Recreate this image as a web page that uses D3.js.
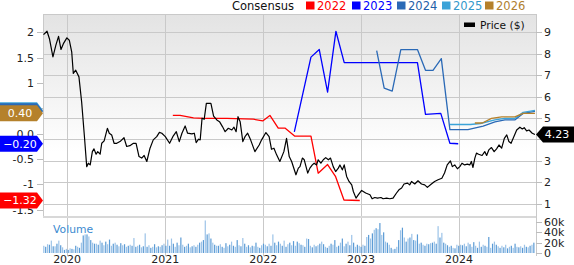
<!DOCTYPE html>
<html><head><meta charset="utf-8">
<script src="https://cdn.jsdelivr.net/npm/d3@7"></script>
<style>body{margin:0;background:#fff}svg{display:block}text{font-family:"DejaVu Sans",sans-serif}</style>
</head><body><svg id="c" width="574" height="265"></svg>
<script>
// ---------------- DATA ----------------
const priceDates = ["2019-10-05","2019-10-18","2019-10-27","2019-11-09","2019-11-20","2019-11-30","2019-12-09","2019-12-18","2019-12-31","2020-01-09","2020-01-18","2020-01-24","2020-02-02","2020-02-14","2020-02-24","2020-03-05","2020-03-14","2020-03-20","2020-03-27","2020-04-04","2020-04-10","2020-04-18","2020-04-24","2020-05-03","2020-05-09","2020-05-18","2020-05-30","2020-06-06","2020-06-15","2020-06-24","2020-07-04","2020-07-16","2020-07-31","2020-08-10","2020-08-22","2020-09-04","2020-09-14","2020-09-25","2020-10-05","2020-10-14","2020-10-24","2020-11-05","2020-11-17","2020-11-30","2020-12-10","2020-12-19","2021-01-01","2021-01-17","2021-01-29","2021-02-11","2021-02-22","2021-03-04","2021-03-16","2021-03-25","2021-04-10","2021-04-19","2021-04-26","2021-05-05","2021-05-11","2021-05-18","2021-05-26","2021-06-03","2021-06-20","2021-06-30","2021-07-12","2021-07-22","2021-08-02","2021-08-12","2021-08-24","2021-09-06","2021-09-14","2021-09-22","2021-09-29","2021-10-07","2021-10-17","2021-10-25","2021-11-04","2021-11-15","2021-12-01","2021-12-17","2021-12-26","2022-01-11","2022-01-23","2022-02-01","2022-02-10","2022-02-20","2022-03-04","2022-03-19","2022-03-29","2022-04-08","2022-04-17","2022-05-03","2022-05-12","2022-05-18","2022-05-27","2022-06-03","2022-06-16","2022-06-24","2022-07-03","2022-07-10","2022-07-19","2022-07-25","2022-08-04","2022-08-13","2022-08-22","2022-09-01","2022-09-09","2022-09-19","2022-09-28","2022-10-08","2022-10-14","2022-10-23","2022-10-30","2022-11-08","2022-11-17","2022-11-27","2022-12-03","2022-12-13","2022-12-22","2023-01-03","2023-01-18","2023-02-03","2023-02-11","2023-02-21","2023-03-03","2023-03-16","2023-03-24","2023-04-06","2023-04-18","2023-04-30","2023-05-13","2023-05-22","2023-06-01","2023-06-10","2023-06-23","2023-07-01","2023-07-08","2023-07-20","2023-08-01","2023-08-14","2023-08-26","2023-09-05","2023-09-20","2023-10-02","2023-10-15","2023-10-29","2023-11-08","2023-11-18","2023-11-30","2023-12-07","2023-12-16","2023-12-26","2024-01-04","2024-01-12","2024-01-22","2024-02-01","2024-02-10","2024-02-16","2024-02-22","2024-02-29","2024-03-06","2024-03-14","2024-03-27","2024-04-06","2024-04-13","2024-04-21","2024-05-01","2024-05-11","2024-05-20","2024-05-29","2024-06-08","2024-06-18","2024-06-27","2024-07-05","2024-07-13","2024-07-21","2024-08-03","2024-08-15","2024-08-24","2024-08-31","2024-09-09","2024-09-18","2024-09-30","2024-10-10"];
const priceValues = [8.89,9.05,8.7,7.85,8.4,8.81,8.2,8.47,8.74,8.63,8.09,7.08,7.23,6.92,5.76,4.21,2.73,2.89,2.81,3.43,3.56,3.31,3.43,3.31,3.82,3.93,4.52,4.29,4.21,3.82,3.82,3.9,4.08,3.67,3.71,3.82,3.82,3.2,3.13,3.25,2.97,3.59,3.98,4.13,4.33,4.29,4.13,3.82,4.13,4.36,3.9,4.29,4.63,4.29,4.26,4.29,3.85,4.01,3.98,4.99,4.94,5.68,5.68,5.09,4.91,4.83,4.6,4.36,4.52,4.44,4.57,4.36,5.06,4.83,3.9,4.13,4.29,3.98,3.43,3.74,3.98,4.32,4.13,3.54,3.59,3.28,2.97,3.43,4.05,3.2,2.97,2.35,2.66,2.73,3.13,3.05,2.43,2.66,2.81,2.89,2.81,3.05,2.89,3.05,3.15,3.05,3.13,2.73,2.5,2.66,2.81,2.58,2.81,2.27,2.04,1.88,1.57,1.26,1.42,1.62,1.5,1.42,1.23,1.29,1.26,1.29,1.23,1.26,1.23,1.26,1.5,1.65,1.73,1.92,1.96,1.88,2.04,1.92,2.07,1.92,1.88,1.76,1.92,2.04,2.12,2.19,2.43,2.81,3.0,2.73,2.81,2.63,2.73,2.89,2.81,2.85,2.81,2.97,2.69,3.13,3.36,3.31,3.25,3.43,3.25,3.51,3.62,3.43,3.56,3.74,3.59,4.05,4.21,3.9,3.82,4.05,4.44,4.57,4.49,4.55,4.4,4.44,4.29,4.23];

const cons2022Dates = ["2021-01-29","2021-02-25","2021-04-16","2021-05-23","2021-08-18","2021-11-25","2021-12-30","2022-01-26","2022-02-26","2022-03-23","2022-04-29","2022-06-28","2022-07-25","2022-08-29","2022-09-28","2022-10-29","2022-12-27"];
const cons2022Values = [0.36,0.36,0.31,0.30,0.30,0.285,0.25,0.36,0.11,0.11,-0.05,-0.05,-0.78,-0.61,-0.85,-1.31,-1.32];
const cons2023Dates = ["2022-04-27","2022-06-28","2022-07-29","2022-08-29","2022-09-29","2022-10-30","2023-07-30","2023-08-29","2023-10-25","2023-11-28","2023-12-29"];
const cons2023Values = [0.035,1.51,1.66,0.82,2.02,1.40,1.40,0.38,0.40,-0.19,-0.20];
const cons2024Dates = ["2023-02-28","2023-03-28","2023-04-27","2023-05-29","2023-07-30","2023-08-29","2023-09-26","2023-10-27","2023-11-28","2024-02-03","2024-03-31","2024-05-14","2024-06-20","2024-07-27","2024-08-27","2024-10-10"];
const cons2024Values = [1.64,0.90,0.84,1.66,1.66,1.25,1.25,1.48,0.08,0.08,0.15,0.23,0.27,0.27,0.40,0.44];
const cons2025Dates = ["2023-11-28","2024-02-12","2024-03-21","2024-05-14","2024-06-20","2024-07-27","2024-08-27","2024-10-10"];
const cons2025Values = [0.18,0.18,0.20,0.27,0.30,0.30,0.42,0.46];
const cons2026Dates = ["2024-02-29","2024-03-28","2024-05-01","2024-06-08","2024-07-27","2024-08-27","2024-10-10"];
const cons2026Values = [0.21,0.21,0.30,0.33,0.33,0.40,0.40];

const consensusYears = ["2022","2023","2024","2025","2026"];
const consensusColors = ["#ff0000","#0000ff","#2a69b6","#3ba3d8","#b5812b"];
const legendTextColors = ["#ff0000","#0000ff","#1f5fa8","#3399cc","#b08030"];

// weekly volume, thousands of shares, week starting 2019-10-06
const volumeStart = "2019-10-06";
const volumeValues = [14,12,17,16,24,13,13,18,24,15,11,6,8,
6,9,8,7,14,12,10,
20,34,36,36,32,25,20,18,
18,16,24,20,15,22,17,26,14,18,20,16,13,19,15,17,12,14,16,
14,29,12,14,16,11,13,38,12,15,10,12,17,11,13,12,15,18,14,
26,14,28,18,12,20,15,30,16,12,14,18,11,13,15,12,16,20,22,
25,63,36,38,28,20,16,14,
14,17,12,10,19,13,16,22,14,12,25,15,13,29,18,12,15,11,14,13,20,12,10,15,18,
16,13,18,14,36,20,15,22,18,14,24,12,17,20,15,23,14,22,19,16,
15,12,28,27,14,11,16,13,15,18,22,17,12,10,14,18,16,25,12,14,20,28,13,18,22,15,35,20,12,16,14,12,16,
14,31,35,28,38,45,48,46,58,35,40,22,20,16,10,7,8,12,25,44,
49,30,22,28,30,37,25,24,36,18,20,16,14,18,17,19,20,22,18,52,30,39,20,18,15,12,14,10,9,16,
14,16,15,18,13,20,17,12,21,14,10,22,12,16,14,12,31,10,18,22,16,13,10,14,11,16,9,12,14,10,18,12,11,13,10,16,12,11,14,16,20];

const leftTicks = [2,1.5,1,0.5,0,-0.5,-1,-1.5];
const leftTickLabels = ["2","1.5","1","0.5","0.0","-0.5","-1","-1.5"];
const rightTicks = [1,2,3,4,5,6,7,8,9];
const volumeTicks = [0,20,40,60];
const volumeTickLabels = ["0","20k","40k","60k"];
const yearTicks = ["2020-01-01","2021-01-01","2022-01-01","2023-01-01","2024-01-01"];
const yearLabels = ["2020","2021","2022","2023","2024"];

// ---------------- CHART ----------------
const parse = d3.timeParse("%Y-%m-%d");
const svg = d3.select("#c");
const L = 43, R = 536, T = 14, PB = 217, VB = 253;

const x = d3.scaleTime().domain([parse("2019-10-03"), parse("2024-10-14")]).range([L, R]);
const yL = d3.scaleLinear().domain([-1, 2]).range([184.3, 32.3]);
const yR = d3.scaleLinear().domain([1, 9]).range([203.7, 32.3]);
const yV = d3.scaleLinear().domain([0, 60]).range([VB, 222]);

const consSeries = [
  [cons2022Dates, cons2022Values], [cons2023Dates, cons2023Values], [cons2024Dates, cons2024Values],
  [cons2025Dates, cons2025Values], [cons2026Dates, cons2026Values]
];
const lastCons = consSeries.map(s => s[1][s[1].length - 1]);
const lastP = priceValues[priceValues.length - 1];

const defs = svg.append("defs");
const grad = defs.append("linearGradient").attr("id", "bg").attr("x1", 0).attr("y1", 0).attr("x2", 0).attr("y2", 1);
grad.append("stop").attr("offset", "0%").attr("stop-color", "#e3e3e3");
grad.append("stop").attr("offset", "68%").attr("stop-color", "#ffffff");
grad.append("stop").attr("offset", "100%").attr("stop-color", "#ffffff");

svg.append("rect").attr("x", L).attr("y", T).attr("width", R - L).attr("height", PB - T).attr("fill", "url(#bg)");

const gridColor = "#c9c9c9";
svg.append("g").selectAll("line").data(rightTicks).join("line")
  .attr("x1", L).attr("x2", R).attr("y1", d => Math.round(yR(d)) + 0.5).attr("y2", d => Math.round(yR(d)) + 0.5)
  .attr("stroke", gridColor);
svg.append("g").selectAll("line").data(yearTicks).join("line")
  .attr("x1", d => Math.round(x(parse(d))) + 0.5).attr("x2", d => Math.round(x(parse(d))) + 0.5)
  .attr("y1", T).attr("y2", 256).attr("stroke", gridColor);
svg.append("line").attr("x1", L).attr("x2", R).attr("y1", T + 0.5).attr("y2", T + 0.5).attr("stroke", gridColor);
svg.append("line").attr("x1", L + 0.5).attr("x2", L + 0.5).attr("y1", T).attr("y2", PB).attr("stroke", gridColor);
svg.append("line").attr("x1", R + 0.5).attr("x2", R + 0.5).attr("y1", T).attr("y2", 256).attr("stroke", gridColor);
svg.append("rect").attr("x", L).attr("y", PB - 1).attr("width", R - L).attr("height", 2).attr("fill", "#d8d8d8");

// left axis ticks & labels (labels fully hidden under a value tag are not drawn)
const leftTagYs = lastCons.map(v => yL(v));
const lg = svg.append("g");
lg.selectAll("line").data(leftTicks).join("line")
  .attr("x1", 37).attr("x2", L).attr("y1", d => Math.round(yL(d)) + 0.5).attr("y2", d => Math.round(yL(d)) + 0.5)
  .attr("stroke", "#bdbdbd");
lg.selectAll("text").data(leftTicks.map((d, i) => [d, leftTickLabels[i]]).filter(p => leftTagYs.every(ty => Math.abs(ty - yL(p[0])) > 5)))
  .join("text")
  .attr("x", 34).attr("y", p => yL(p[0])).attr("dy", "0.36em").attr("text-anchor", "end")
  .attr("font-size", 11).attr("fill", "#222").text(p => p[1]);

// right axis ticks & labels
const rg = svg.append("g");
rg.selectAll("line").data(rightTicks).join("line")
  .attr("x1", R).attr("x2", 542).attr("y1", d => Math.round(yR(d)) + 0.5).attr("y2", d => Math.round(yR(d)) + 0.5)
  .attr("stroke", "#bdbdbd");
rg.selectAll("text").data(rightTicks.filter(d => Math.abs(yR(d) - yR(lastP)) > 5)).join("text")
  .attr("x", 544).attr("y", d => yR(d)).attr("dy", "0.36em")
  .attr("font-size", 11).attr("fill", "#222").text(d => d);

// volume axis
const vg = svg.append("g");
vg.selectAll("line").data(volumeTicks).join("line")
  .attr("x1", R).attr("x2", 542).attr("y1", d => Math.round(yV(d)) + 0.5).attr("y2", d => Math.round(yV(d)) + 0.5)
  .attr("stroke", "#bdbdbd");
vg.selectAll("text").data(volumeTicks).join("text")
  .attr("x", 544).attr("y", d => yV(d)).attr("dy", "0.36em")
  .attr("font-size", 11).attr("fill", "#222").text((d, i) => volumeTickLabels[i]);

// year labels
svg.append("g").selectAll("text").data(yearTicks).join("text")
  .attr("x", d => x(parse(d))).attr("y", 263).attr("text-anchor", "middle")
  .attr("font-size", 11).attr("fill", "#222").text((d, i) => yearLabels[i]);

// volume bars
const v0 = parse(volumeStart);
const volData = volumeValues.map((v, i) => ({ d: d3.timeWeek.offset(v0, i), v }));
svg.append("g").selectAll("rect").data(volData.filter(o => x(o.d) < R - 0.5)).join("rect")
  .attr("x", o => x(o.d) - 0.6).attr("width", 1.2)
  .attr("y", o => yV(o.v)).attr("height", o => VB - yV(o.v))
  .attr("fill", (o, i) => i % 2 ? "#5b9bd5" : "#9cc3e8");
svg.append("text").attr("x", 53).attr("y", 233).attr("font-size", 10.8).attr("fill", "#3b8ad0").text("Volume");

// consensus lines (left axis)
const lineL = d3.line().x(d => x(d[0])).y(d => yL(d[1]));
consSeries.forEach((s, i) => {
  const pts = s[0].map((d, j) => [parse(d), s[1][j]]);
  svg.append("path").attr("d", lineL(pts)).attr("fill", "none")
    .attr("stroke", consensusColors[i]).attr("stroke-width", 1.3).attr("stroke-linejoin", "round");
});

// price line (right axis)
const pricePts = priceDates.map((d, i) => [parse(d), priceValues[i]]);
const lineR = d3.line().x(d => x(d[0])).y(d => yR(d[1]));
svg.append("path").attr("d", lineR(pricePts)).attr("fill", "none")
  .attr("stroke", "#000").attr("stroke-width", 1.2).attr("stroke-linejoin", "round");

// left value tags (drawing order: 2025, 2024, 2026, 2023, 2022)
const tagOrder = [3, 2, 4, 1, 0];
const fmt = d3.format(".2f");
tagOrder.forEach(i => {
  const v = lastCons[i];
  const cy = yL(v);
  svg.append("path").attr("d", `M0,${cy - 8}H37L43,${cy}L37,${cy + 8}H0Z`).attr("fill", consensusColors[i]);
  if (i !== 2 && i !== 3) {
    svg.append("text").attr("x", 20).attr("y", cy).attr("dy", "0.36em").attr("text-anchor", "middle")
      .attr("font-size", 11).attr("fill", "#fff").text(fmt(v));
  }
});

// right price tag
const py = yR(lastP);
svg.append("path").attr("d", `M${R},${py}L${R + 7},${py - 8}H574V${py + 8}H${R + 7}Z`).attr("fill", "#000");
svg.append("text").attr("x", 557).attr("y", py).attr("dy", "0.36em").attr("text-anchor", "middle")
  .attr("font-size", 11).attr("fill", "#fff").text(fmt(lastP));

// legend
svg.append("text").attr("x", 232).attr("y", 10).attr("font-size", 11.5).attr("fill", "#111").text("Consensus");
const legX = [306, 352, 397, 442, 485];
consensusYears.forEach((yr, i) => {
  svg.append("rect").attr("x", legX[i]).attr("y", 1.5).attr("width", 8.5).attr("height", 8).attr("fill", consensusColors[i]);
  svg.append("text").attr("x", legX[i] + 11).attr("y", 10).attr("font-size", 11.5).attr("fill", legendTextColors[i]).text(yr);
});
svg.append("rect").attr("x", 464).attr("y", 22.5).attr("width", 11).attr("height", 4.5).attr("fill", "#000");
svg.append("text").attr("x", 480).attr("y", 29).attr("font-size", 10.7).attr("fill", "#111").text("Price ($)");
</script>
</body></html>
